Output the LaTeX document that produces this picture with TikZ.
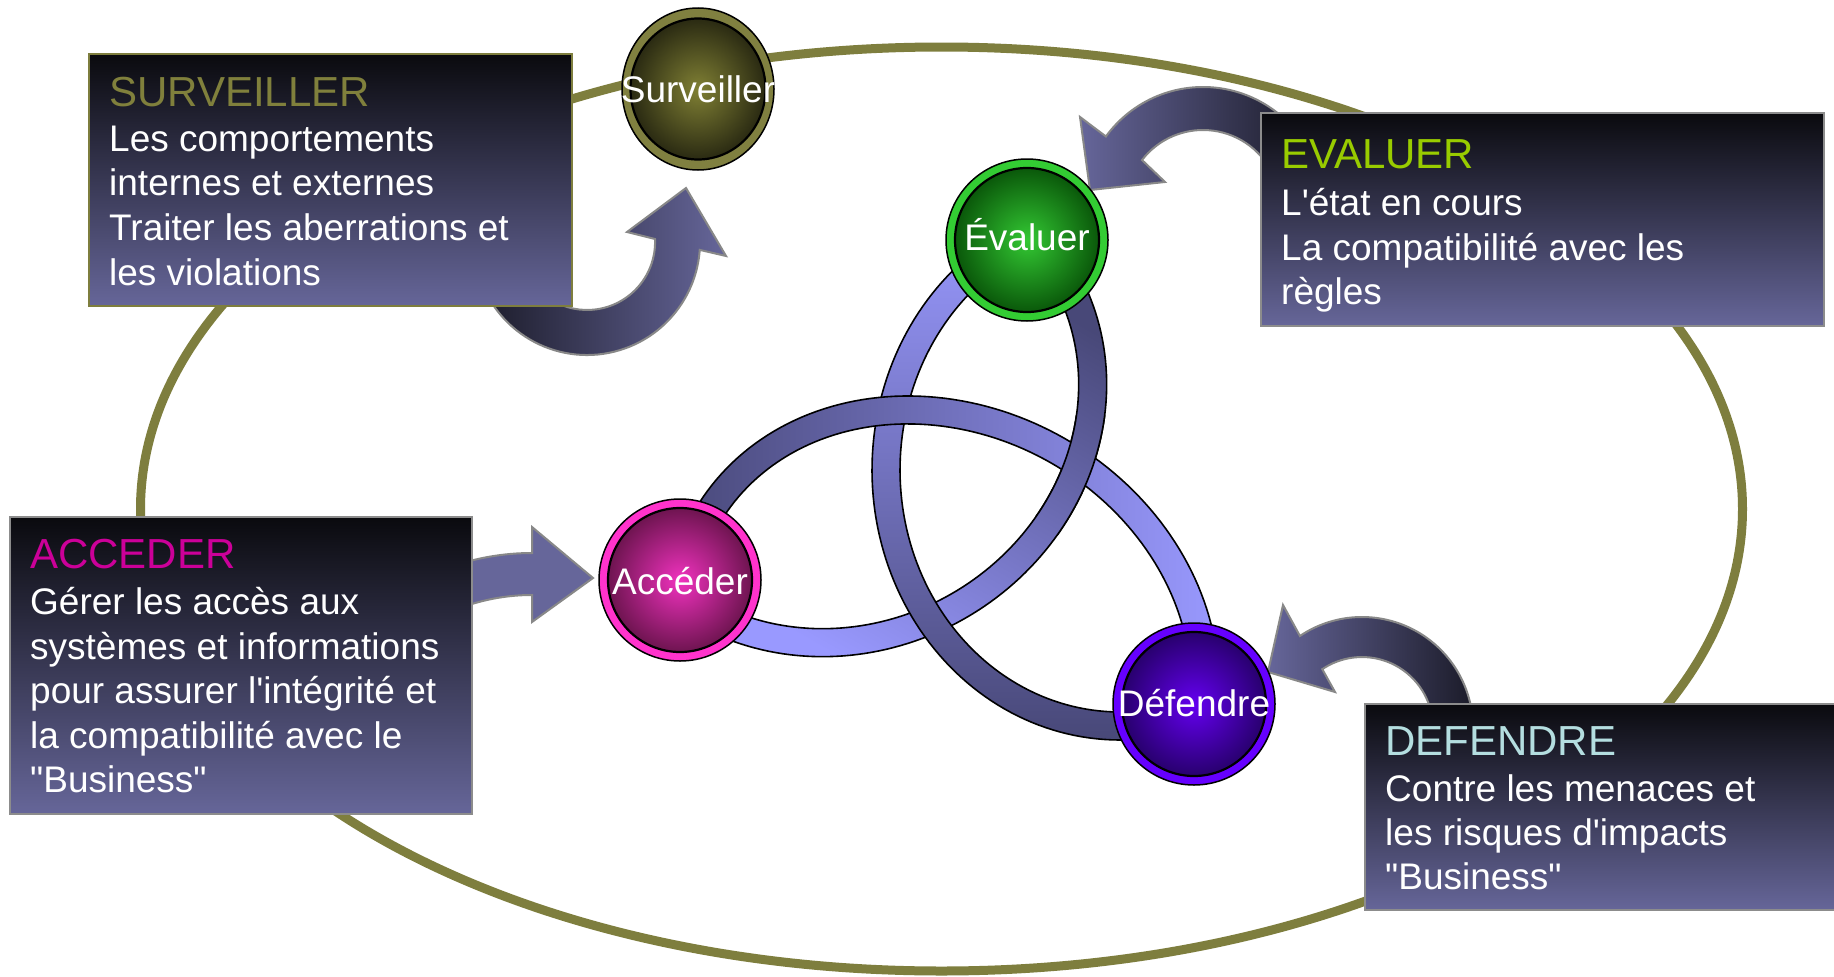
\documentclass[tikz,border=0pt]{standalone}
\usepackage{fontspec}
\setmainfont{Liberation Sans}[Ligatures=TeXOff]
\usetikzlibrary{shapes.geometric}
\definecolor{olivec}{RGB}{126,126,62}
\definecolor{boxtop}{RGB}{10,10,14}
\definecolor{boxbot}{RGB}{102,102,153}
\definecolor{boxline}{RGB}{140,140,140}
\definecolor{arrowc}{RGB}{102,102,154}
\definecolor{arrowdark}{RGB}{28,28,42}
\definecolor{arrowline}{RGB}{136,136,136}
\definecolor{bandlight}{RGB}{153,153,255}
\definecolor{banddark}{RGB}{72,72,120}
\definecolor{tSurv}{RGB}{128,128,60}
\definecolor{tEval}{RGB}{153,204,0}
\definecolor{tAcc}{RGB}{204,0,153}
\definecolor{tDef}{RGB}{180,222,224}
\definecolor{ringS}{RGB}{128,128,64}
\definecolor{discSin}{RGB}{128,128,52}
\definecolor{discSout}{RGB}{42,42,18}
\definecolor{ringE}{RGB}{51,204,51}
\definecolor{discEin}{RGB}{51,200,51}
\definecolor{discEout}{RGB}{10,88,10}
\definecolor{ringA}{RGB}{255,51,204}
\definecolor{discAin}{RGB}{240,50,190}
\definecolor{discAout}{RGB}{110,20,80}
\definecolor{ringD}{RGB}{102,0,255}
\definecolor{discDin}{RGB}{100,0,240}
\definecolor{discDout}{RGB}{40,0,110}
% band: cx, cy, a, b, phi, t0, t1
\newcommand{\myband}[7]{plot[domain=#6:#7,samples=100,variable=\t]
  ({#1+(#3+14)*cos(\t)*cos(#5)-(#4+14)*sin(\t)*sin(#5)},{#2+(#3+14)*cos(\t)*sin(#5)+(#4+14)*sin(\t)*cos(#5)})
  -- plot[domain=#7:#6,samples=100,variable=\t]
  ({#1+(#3-14)*cos(\t)*cos(#5)-(#4-14)*sin(\t)*sin(#5)},{#2+(#3-14)*cos(\t)*sin(#5)+(#4-14)*sin(\t)*cos(#5)}) -- cycle}
\tikzset{
  bandstyle/.style={draw=black, line width=1.6pt},
  arrowstyle/.style={draw=arrowline, line width=2pt},
  boxstyle/.style={rectangle, anchor=north west, inner sep=0pt, top color=boxtop, bottom color=boxbot, draw=#1, line width=2pt},
  ttl/.style={anchor=base west, inner sep=0pt, font=\fontsize{42}{50}\selectfont},
  bdy/.style={anchor=base west, inner sep=0pt, text=white, font=\fontsize{37}{44}\selectfont},
  ringstyle/.style={ellipse, inner sep=0pt, draw=black, line width=1.5pt, minimum width=162pt, minimum height=162pt},
  discstyle/.style={ellipse, inner sep=0pt, draw=black, line width=2.2pt, minimum width=144pt, minimum height=144pt},
  clbl/.style={anchor=base, inner sep=0pt, text=white, font=\fontsize{37}{44}\selectfont}
}
\begin{document}
\begin{tikzpicture}[x=1pt,y=-1pt]
\useasboundingbox (0,0) rectangle (1834,977);
\fill[white] (0,0) rectangle (1834,977);
% big olive ellipse
\draw[olivec, line width=9pt] (941.5,509) ellipse [x radius=801, y radius=462];
% block arrows
\shade[arrowstyle, left color=arrowdark, right color=arrowc]
  (587,242) ++(160:113) arc[start angle=160, end angle=4, radius=113]
  -- (726,256) -- (686,188) -- (627,232) -- (655,239)
  arc[start angle=-2.5, end angle=160, radius=68] -- cycle;
\shade[arrowstyle, left color=arrowc, right color=arrowdark]
  (1203,207) ++(216:120) arc[start angle=216, end angle=330, radius=120]
  -- (1269.7,168.5) arc[start angle=330, end angle=217.6, radius=77]
  -- (1165,182) -- (1090,190) -- (1080,117) -- cycle;
\fill[arrowc, draw=arrowline, line width=2pt]
  (532,800) ++(250:247) arc[start angle=250, end angle=270, radius=247]
  -- (532,527) -- (593,578) -- (532,622) -- (532,595)
  arc[start angle=270, end angle=250, radius=205] -- cycle;
\shade[arrowstyle, left color=arrowc, right color=arrowdark]
  (1362,728) ++(236:111) arc[start angle=236, end angle=350, radius=111]
  -- (1431.9,715.7) arc[start angle=350, end angle=236, radius=71]
  -- (1335,692) -- (1268,672) -- (1283,605) -- cycle;
% interlaced bands
\shade[bandstyle, top color=banddark, bottom color=bandlight, shading angle=-30] \myband{842}{403}{234}{256}{240}{85}{245};
\shade[bandstyle, top color=bandlight, bottom color=banddark] \myband{1120}{470}{234}{256}{0}{80}{250};
\shade[bandstyle, top color=banddark, bottom color=bandlight, shading angle=90] \myband{942}{654}{272}{234}{30}{165}{335};
\begin{scope}
  \clip (1035,415) rectangle (1145,535);
  \shade[bandstyle, top color=banddark, bottom color=bandlight, shading angle=-30] \myband{842}{403}{234}{256}{240}{85}{245};
\end{scope}
% circles
\node[ringstyle, fill=ringS, minimum width=152pt] (Rsurv) at (698,89) {};
\node[discstyle, inner color=discSin, outer color=discSout, minimum width=135pt, minimum height=141pt] (Dsurv) at (698,89) {};
\node[clbl] (Lsurv) at (698,102) {Surveiller};
\node[ringstyle, fill=ringE] (Reval) at (1027,240) {};
\node[discstyle, inner color=discEin, outer color=discEout] (Deval) at (1027,240) {};
\node[clbl] (Leval) at (1027,250) {Évaluer};
\node[ringstyle, fill=ringA] (Racc) at (680,580) {};
\node[discstyle, inner color=discAin, outer color=discAout] (Dacc) at (680,580) {};
\node[clbl] (Lacc) at (680,594) {Accéder};
\node[ringstyle, fill=ringD] (Rdef) at (1194,704) {};
\node[discstyle, inner color=discDin, outer color=discDout] (Ddef) at (1194,704) {};
\node[clbl] (Ldef) at (1194,716) {Défendre};
% boxes
\node[boxstyle=olivec, minimum width=483pt, minimum height=252pt] (Bsurv) at (88,53) {};
\node[boxstyle=boxline, minimum width=563pt, minimum height=213pt] (Beval) at (1260,112) {};
\node[boxstyle=boxline, minimum width=462pt, minimum height=297pt] (Bacc) at (9,516) {};
\node[boxstyle=boxline, minimum width=474pt, minimum height=206pt] (Bdef) at (1364,703) {};
% texts
\node[ttl, text=tSurv] (s0) at (109,106) {SURVEILLER};
\node[bdy] (s1) at (109,151) {Les comportements};
\node[bdy] (s2) at (109,195.5) {internes et externes};
\node[bdy] (s3) at (109,240.5) {Traiter les aberrations et};
\node[bdy] (s4) at (109,285) {les violations};
\node[ttl, text=tEval] (e0) at (1281,168) {EVALUER};
\node[bdy] (e1) at (1281,215.5) {L'état en cours};
\node[bdy] (e2) at (1281,260) {La compatibilité avec les};
\node[bdy] (e3) at (1281,304) {règles};
\node[ttl, text=tAcc] (a0) at (30,568) {ACCEDER};
\node[bdy] (a1) at (30,614.5) {Gérer les accès aux};
\node[bdy] (a2) at (30,659) {systèmes et informations};
\node[bdy] (a3) at (30,703.5) {pour assurer l'intégrité et};
\node[bdy] (a4) at (30,748) {la compatibilité avec le};
\node[bdy] (a5) at (30,792.5) {"Business"};
\node[ttl, text=tDef] (d0) at (1385,755) {DEFENDRE};
\node[bdy] (d1) at (1385,801) {Contre les menaces et};
\node[bdy] (d2) at (1385,845) {les risques d'impacts};
\node[bdy] (d3) at (1385,889.5) {"Business"};
\end{tikzpicture}
\end{document}
